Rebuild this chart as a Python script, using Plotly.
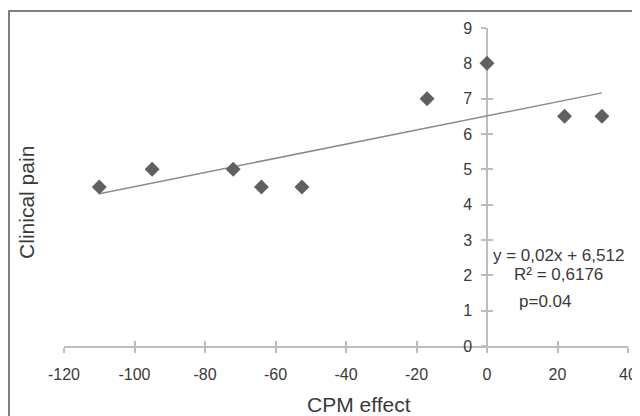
import plotly.graph_objects as go

# Data
cpm_effect = [-110, -95, -72, -64, -52.5, -17, 0, 22, 32.6]
clinical_pain = [4.5, 5, 5, 4.5, 4.5, 7, 8, 6.5, 6.5]
slope = 0.02
intercept = 6.512
x_ticks = [-120, -100, -80, -60, -40, -20, 0, 20, 40]
x_tick_labels = ["-120", "-100", "-80", "-60", "-40", "-20", "0", "20", "40"]
y_ticks = [0, 1, 2, 3, 4, 5, 6, 7, 8, 9]
eq_text = "y = 0,02x + 6,512"
r2_text = "R² = 0,6176"
p_text = "p=0.04"

FONT = "Liberation Sans, Arial, sans-serif"
TXT = "#3a3a3a"
AX = "#bdbdbd"

trend_x = [min(cpm_effect), max(cpm_effect)]
trend_y = [slope * v + intercept for v in trend_x]

fig = go.Figure()
fig.add_trace(go.Scatter(x=trend_x, y=trend_y, mode="lines",
                         line=dict(color="#8c8c8c", width=1.5),
                         xaxis="x", yaxis="y2", showlegend=False, hoverinfo="skip"))
fig.add_trace(go.Scatter(x=cpm_effect, y=clinical_pain, mode="markers",
                         marker=dict(symbol="diamond", size=11.5, color="#606060"),
                         xaxis="x", yaxis="y2", showlegend=False))
# empty traces to register overlay axes (inner half of crossing ticks)
fig.add_trace(go.Scatter(x=[], y=[], xaxis="x2", yaxis="y3", showlegend=False, hoverinfo="skip"))
fig.add_trace(go.Scatter(x=[], y=[], xaxis="x", yaxis="y", showlegend=False, hoverinfo="skip"))

common_x = dict(range=[-120, 40], tickvals=x_ticks, showgrid=False, zeroline=False,
                automargin=False, layer="below traces")
common_y = dict(range=[0, 9], tickvals=y_ticks, showgrid=False, zeroline=False,
                automargin=False, layer="below traces")

fig.update_layout(
    width=640, height=416,
    margin=dict(l=56, r=20, t=20, b=78),
    paper_bgcolor="white", plot_bgcolor="white",
    font=dict(family=FONT, color=TXT),
    xaxis=dict(**common_x, ticktext=x_tick_labels, anchor="y", showline=True,
               linecolor=AX, linewidth=1.5,
               ticks="outside", ticklen=5, tickcolor=AX, tickwidth=1.5,
               tickfont=dict(size=16, color=TXT), ticklabelstandoff=8),
    xaxis2=dict(**common_x, overlaying="x", anchor="y", showline=False,
                ticks="inside", ticklen=5, tickcolor=AX, tickwidth=1.5,
                showticklabels=False),
    yaxis=dict(**common_y, anchor="x", showline=False, ticks="", showticklabels=False),
    yaxis2=dict(**common_y, overlaying="y", anchor="free", position=0.75,
                showline=True, linecolor=AX, linewidth=1.5,
                ticks="outside", ticklen=5, tickcolor=AX, tickwidth=1.5,
                tickfont=dict(size=16, color=TXT), ticklabelstandoff=6),
    yaxis3=dict(**common_y, overlaying="y", anchor="free", position=0.75,
                showline=False, ticks="inside", ticklen=5, tickcolor=AX, tickwidth=1.5,
                showticklabels=False),
    shapes=[dict(type="rect", xref="paper", yref="paper",
                 x0=-0.0975, x1=1.05, y0=-0.25, y1=1.0535,
                 line=dict(color="#555555", width=1.5), fillcolor="rgba(0,0,0,0)", layer="below")],
    annotations=[
        dict(text="CPM effect", x=0.523, y=-0.185, xref="paper", yref="paper", showarrow=False,
             font=dict(size=21, color=TXT), xanchor="center", yanchor="middle"),
        dict(text="Clinical pain", x=-0.0656, y=0.45, xref="paper", yref="paper", showarrow=False,
             textangle=-90, font=dict(size=21, color=TXT), xanchor="center", yanchor="middle"),
        dict(text=eq_text, x=20.4, y=2.55, xref="x", yref="y2", showarrow=False,
             font=dict(size=17, color=TXT), xanchor="center", yanchor="middle"),
        dict(text=r2_text, x=20.2, y=2.01, xref="x", yref="y2", showarrow=False,
             font=dict(size=17, color=TXT), xanchor="center", yanchor="middle"),
        dict(text=p_text, x=16.5, y=1.25, xref="x", yref="y2", showarrow=False,
             font=dict(size=17, color=TXT), xanchor="center", yanchor="middle"),
    ],
)

fig.write_html("out.html")
